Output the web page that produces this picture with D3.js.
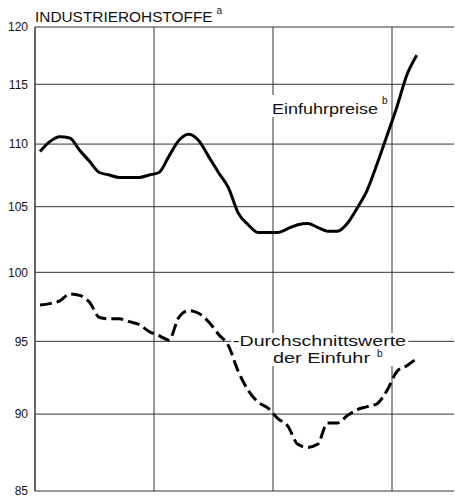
<!DOCTYPE html>
<html>
<head>
<meta charset="utf-8">
<script src="https://cdn.jsdelivr.net/npm/d3@7"></script>
<style>
  body { margin: 0; background: #fff; }
  svg { display: block; }
  text { font-family: "Liberation Sans", "DejaVu Sans", sans-serif; fill: #111; }
</style>
</head>
<body>
<svg id="chart" width="455" height="497"></svg>
<script>
// monthly index values (log scale)
var months = d3.range(39).map(function(i){ return i + 0.5; });
var einfuhrpreise = [109.4, 110.2, 110.6, 110.5, 109.5, 108.6, 107.7, 107.5, 107.3, 107.3,
  107.3, 107.5, 107.7, 109.0, 110.3, 110.8, 110.3, 109.0, 107.7, 106.5,
  104.5, 103.6, 103.0, 103.0, 103.0, 103.3, 103.6, 103.7, 103.4, 103.1,
  103.1, 103.7, 104.9, 106.3, 108.4, 110.7, 113.1, 115.8, 117.5];
var durchschnittswerte = [97.6, 97.7, 97.9, 98.4, 98.3, 97.8, 96.7, 96.6, 96.6, 96.4,
  96.2, 95.7, 95.4, 95.1, 96.7, 97.2, 97.0, 96.4, 95.5, 94.7,
  92.9, 91.6, 90.8, 90.4, 89.7, 89.2, 88.0, 87.8, 88.0, 89.4,
  89.4, 89.9, 90.3, 90.5, 90.7, 91.6, 92.9, 93.3, 93.8];
var yTicks = [85, 90, 95, 100, 105, 110, 115, 120];
var yearLines = [0, 12, 24, 36];

var svg = d3.select("#chart");
var x = d3.scaleLinear().domain([0, 48]).range([35, 511]);
var y = d3.scaleLog().domain([85, 120]).range([491, 27]);
var right = 454;

// grid
svg.append("g").selectAll("line").data(yTicks).enter().append("line")
    .attr("x1", x(0)).attr("x2", right)
    .attr("y1", function(d){ return y(d); }).attr("y2", function(d){ return y(d); })
    .attr("stroke", "#333").attr("stroke-width", 1);
svg.append("g").selectAll("line").data(yearLines).enter().append("line")
    .attr("x1", function(d){ return x(d); }).attr("x2", function(d){ return x(d); })
    .attr("y1", y(120)).attr("y2", y(85))
    .attr("stroke", "#333").attr("stroke-width", function(d){ return d === 0 ? 1.5 : 1; });

// y labels
var yAxis = d3.axisLeft(y).tickValues(yTicks).tickSize(0).tickPadding(0).tickFormat(d3.format("d"));
svg.append("g").attr("transform", "translate(28,0)").call(yAxis)
    .call(function(g){ g.select(".domain").remove(); })
    .selectAll("text")
    .style("font-family", "'Liberation Sans', sans-serif")
    .style("font-size", "12px").attr("fill", "#111");

// labels with white background
function label(lines){
  var g = svg.append("g");
  var bg = g.append("rect").attr("fill", "#fff");
  var t = g.append("g");
  lines.forEach(function(l){
    var tx = t.append("text").attr("x", l.x).attr("y", l.y)
      .style("font-size", l.size + "px");
    if (l.len) tx.attr("textLength", l.len).attr("lengthAdjust", "spacingAndGlyphs");
    tx.text(l.text);
  });
  var b = t.node().getBBox();
  bg.attr("x", b.x - 2).attr("y", b.y).attr("width", b.width + 4).attr("height", b.height);
}
label([{text: "Einfuhrpreise", x: 272, y: 114, size: 14, len: 106},
       {text: "b", x: 382, y: 104, size: 10}]);
label([{text: "-Durchschnittswerte", x: 233, y: 346, size: 14, len: 173},
       {text: "der Einfuhr", x: 273, y: 363, size: 14, len: 97},
       {text: "b", x: 377, y: 357, size: 10}]);

// lines
var line = function(vals){
  return d3.line().curve(d3.curveMonotoneX)
    .x(function(d, i){ return x(months[i]); })
    .y(function(d){ return y(d); })(vals);
};
svg.append("path").attr("d", line(einfuhrpreise))
    .attr("fill", "none").attr("stroke", "#000").attr("stroke-width", 3)
    .attr("stroke-linejoin", "round");
svg.append("path").attr("d", line(durchschnittswerte))
    .attr("fill", "none").attr("stroke", "#000").attr("stroke-width", 3)
    .attr("stroke-dasharray", "12,5");

// title with superscript in one text element
var title = svg.append("text").attr("x", 35).attr("y", 22).style("font-size", "15.4px");
title.append("tspan").text("INDUSTRIEROHSTOFFE");
title.append("tspan").attr("dx", 4).attr("dy", -8).style("font-size", "10px").text("a");
</script>
</body>
</html>
